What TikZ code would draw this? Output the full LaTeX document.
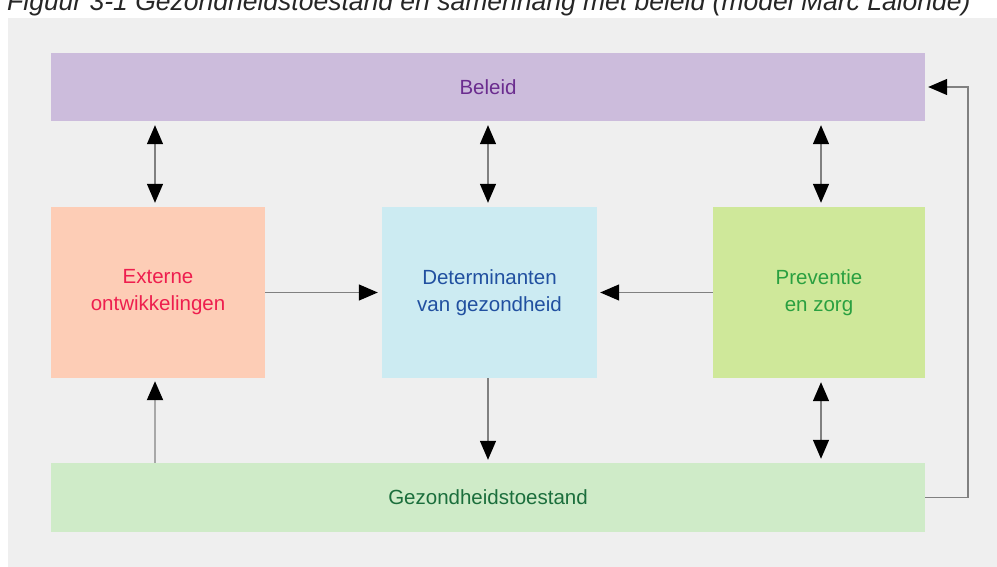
\documentclass[tikz,border=0pt]{standalone}
\usepackage{fontspec}
\setmainfont{Liberation Sans}
\usetikzlibrary{arrows.meta}
\definecolor{panel}{HTML}{EFEFEF}
\definecolor{belfill}{HTML}{CCBCDC}
\definecolor{beltext}{HTML}{6B2D8F}
\definecolor{extfill}{HTML}{FDCDB6}
\definecolor{exttext}{HTML}{EE1E4E}
\definecolor{detfill}{HTML}{CCEBF2}
\definecolor{dettext}{HTML}{2150A0}
\definecolor{prevfill}{HTML}{CFE89A}
\definecolor{prevtext}{HTML}{2AA040}
\definecolor{gezfill}{HTML}{CFEBC8}
\definecolor{geztext}{HTML}{1B6E3C}
\definecolor{linegray}{HTML}{808080}
\definecolor{lightgray}{HTML}{A8A8A8}
\tikzset{
  boxstyle/.style={draw=none, rectangle, inner sep=0pt, align=center,
    font=\fontsize{20.5}{27}\selectfont},
  conn/.style={draw=linegray, line width=1.4pt,
    arrows={-Triangle[length=19pt,width=16pt,fill=black,color=black]}},
  dconn/.style={draw=linegray, line width=1.4pt,
    arrows={Triangle[length=19pt,width=16pt,fill=black,color=black]-Triangle[length=19pt,width=16pt,fill=black,color=black]}},
  lconn/.style={draw=lightgray, line width=2pt,
    arrows={-Triangle[length=19pt,width=16pt,fill=black,color=black]}},
}
\begin{document}
\begin{tikzpicture}[x=1pt,y=-1pt]
\useasboundingbox (0,0) rectangle (997,567);
\node[anchor=base west, inner sep=0pt, font=\fontsize{26.5}{30}\selectfont\itshape, text=black!85] (cap) at (7,11) {Figuur 3-1 Gezondheidstoestand en samenhang met beleid (model Marc Lalonde)};
\fill[panel] (8,18) rectangle (997,567);
\node[boxstyle, fill=belfill, text=beltext, minimum width=874pt, minimum height=68pt] (beleid) at (488,87) {Beleid};
\node[boxstyle, fill=extfill, text=exttext, minimum width=214pt, minimum height=171pt] (ext) at (158,292.5) {Externe\\ontwikkelingen};
\node[boxstyle, fill=detfill, text=dettext, minimum width=215pt, minimum height=171pt] (det) at (489.5,292.5) {Determinanten\\van gezondheid};
\node[boxstyle, fill=prevfill, text=prevtext, minimum width=212pt, minimum height=171pt] (prev) at (819,292.5) {Preventie\\en zorg};
\node[boxstyle, fill=gezfill, text=geztext, minimum width=874pt, minimum height=69pt] (gez) at (488,497.5) {Gezondheidstoestand};
% Beleid <-> boxes
\draw[dconn, shorten <=4pt, shorten >=4pt] ([xshift=-3pt]ext.north |- beleid.south) -- ([xshift=-3pt]ext.north);
\draw[dconn, shorten <=4pt, shorten >=4pt] ([xshift=-1.5pt]det.north |- beleid.south) -- ([xshift=-1.5pt]det.north);
\draw[dconn, shorten <=4pt, shorten >=4pt] ([xshift=2pt]prev.north |- beleid.south) -- ([xshift=2pt]prev.north);
% horizontal arrows
\draw[conn, shorten >=4pt] (ext.east) -- (det.west);
\draw[conn, shorten >=3pt] (prev.west) -- (det.east);
% down arrows
\draw[conn, shorten >=3pt] ([xshift=-1.5pt]det.south) -- ([xshift=-1.5pt]det.south |- gez.north);
\draw[dconn, shorten <=4pt, shorten >=4pt] ([xshift=2pt]prev.south) -- ([xshift=2pt]prev.south |- gez.north);
% gez -> ext
\draw[lconn, shorten >=3pt] ([xshift=-3pt]ext.south |- gez.north) -- ([xshift=-3pt]ext.south);
% feedback
\coordinate (fb) at (968,0);
\draw[conn, shorten >=3pt] (gez.east) -- (gez.east -| fb) -- (beleid.east -| fb) -- (beleid.east);
\end{tikzpicture}
\end{document}
